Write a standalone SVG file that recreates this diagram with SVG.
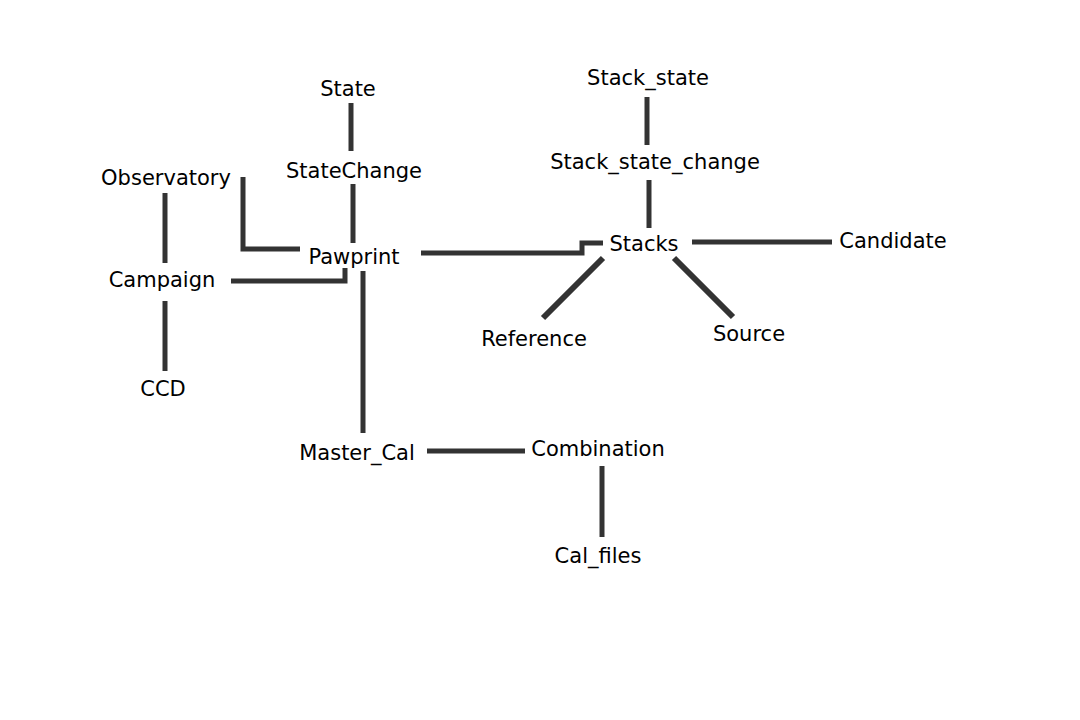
<svg xmlns="http://www.w3.org/2000/svg" width="1080" height="720" viewBox="0 0 1080 720">
<style>
.bg{fill:#ffffff}
.n text{font-family:"DejaVu Sans",sans-serif;font-size:21px;fill:#000000;text-anchor:middle}
.c{fill:none;stroke:#333333;stroke-width:5}
.d{stroke-width:6}
</style>
<rect class="bg" x="0" y="0" width="1080" height="720"/>
<g id="connectors">
<path class="c" d="M351,103 V151"/>
<path class="c" d="M353,184 V243"/>
<path class="c" d="M243,177 V249 H300"/>
<path class="c" d="M165,193 V263"/>
<path class="c" d="M165,301 V371"/>
<path class="c" d="M231,281 H345 V268"/>
<path class="c" d="M363,271 V433"/>
<path class="c" d="M421,253 H582 V243 H603"/>
<path class="c" d="M647,97 V145"/>
<path class="c" d="M649,180 V228"/>
<path class="c" d="M692,242 H832"/>
<path class="c d" d="M603,258 L543,318"/>
<path class="c d" d="M674,258 L733,317"/>
<path class="c" d="M427,451 H525"/>
<path class="c" d="M602,466 V537"/>
</g>
<g id="State" class="n"><text x="348" y="96">State</text></g>
<g id="StateChange" class="n"><text x="354" y="178">StateChange</text></g>
<g id="Observatory" class="n"><text x="166" y="185">Observatory</text></g>
<g id="Pawprint" class="n"><text x="354" y="264">Pawprint</text></g>
<g id="Campaign" class="n"><text x="162" y="287">Campaign</text></g>
<g id="CCD" class="n"><text x="163" y="396">CCD</text></g>
<g id="Master_Cal" class="n"><text x="357" y="460">Master_Cal</text></g>
<g id="Combination" class="n"><text x="598" y="456">Combination</text></g>
<g id="Cal_files" class="n"><text x="598" y="563">Cal_files</text></g>
<g id="Stack_state" class="n"><text x="648" y="85">Stack_state</text></g>
<g id="Stack_state_change" class="n"><text x="655" y="169">Stack_state_change</text></g>
<g id="Stacks" class="n"><text x="644" y="251">Stacks</text></g>
<g id="Candidate" class="n"><text x="893" y="248">Candidate</text></g>
<g id="Reference" class="n"><text x="534" y="346">Reference</text></g>
<g id="Source" class="n"><text x="749" y="341">Source</text></g>
</svg>
